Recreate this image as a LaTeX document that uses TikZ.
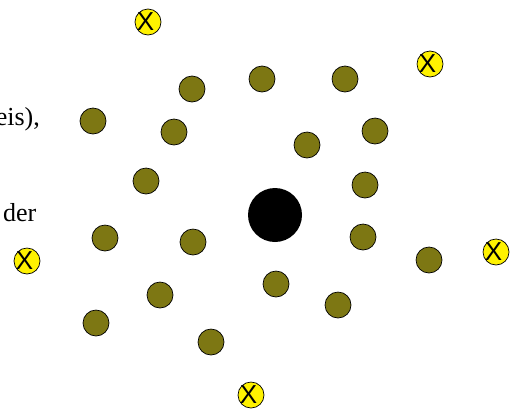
\documentclass[tikz,border=0pt]{standalone}
\usepackage{fontspec}
\setmainfont{Liberation Serif}
\newfontfamily\xfont{Liberation Sans}
\begin{document}
\begin{tikzpicture}[x=1pt,y=-1pt,
  dot/.style={circle,draw=black,line width=0.7pt,fill=olive!85!black,minimum size=26pt,inner sep=0pt},
  xdot/.style={circle,draw=black,line width=0.7pt,fill=yellow,minimum size=26pt,inner sep=0pt},
  xmark/.style={font=\xfont\fontsize{26}{26}\selectfont,inner sep=0pt},
  cut/.style={font=\fontsize{26}{30}\selectfont,inner sep=0pt,anchor=base east}]
\clip (0,0) rectangle (518,410);
\useasboundingbox (0,0) rectangle (518,410);
% olive dots
\foreach \n/\x/\y in {o1/192/89,o2/262/79,o3/345/79,o4/93/121,o5/174/132,o6/307/145,
  o7/375/131,o8/146/181,o9/365/185,o10/105/238,o11/193/242,o12/363/237,o13/429/260,
  o14/160/295,o15/276/284,o16/338/305,o17/96/323,o18/211/342}
  \node[dot] (\n) at (\x,\y) {};
% centre
\node[circle,fill=black,minimum size=54pt,inner sep=0pt] (c) at (275,215) {};
% yellow X dots
\foreach \n/\x/\y in {y1/148/22,y2/430/64,y3/27/261,y4/496/252,y5/251/395}{
  \node[xdot] (\n) at (\x,\y) {};
  \node[xmark] (\n x) at ([xshift=-2.5pt]\n) {X};
}
% cut text
\node[cut] (t1) at (40,125) {eis),};
\node[cut] (t2) at (36.5,221) {der};
\end{tikzpicture}
\end{document}
